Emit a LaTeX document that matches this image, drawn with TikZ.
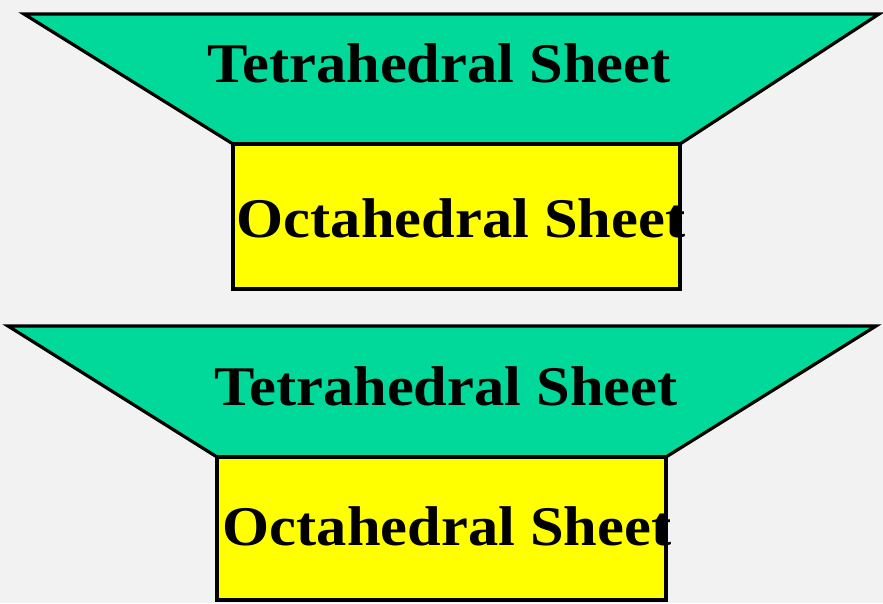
\documentclass[tikz,border=0pt]{standalone}
\usepackage{fontspec}
\setmainfont{Liberation Serif}
\definecolor{bgc}{HTML}{F2F2F2}
\definecolor{tetc}{HTML}{00D99A}
\definecolor{octc}{HTML}{FFFF00}
\begin{document}
\begin{tikzpicture}[x=1pt,y=-1pt,
  sheetshape/.style={draw=black,line width=3.2pt,line join=miter},
  lbl/.style={anchor=base,inner sep=0pt,font=\fontsize{56}{60}\selectfont\bfseries,xscale=1.08}]
\fill[bgc] (0,0) rectangle (883,603);
\useasboundingbox (0,0) rectangle (883,603);
% first pair
\draw[sheetshape,fill=tetc] (24,14) -- (879,14) -- (680,144) -- (233,144) -- cycle;
\draw[sheetshape,fill=octc] (233,144) rectangle (680,289);
% second pair
\draw[sheetshape,fill=tetc] (8,326) -- (876,326) -- (666,457) -- (217,457) -- cycle;
\draw[sheetshape,fill=octc] (217,457) rectangle (666,600);
\node[lbl] (t1) at (439,82) {Tetrahedral Sheet};
\node[lbl] (o1) at (461,237) {Octahedral Sheet};
\node[lbl] (t2) at (446,405) {Tetrahedral Sheet};
\node[lbl] (o2) at (447,545) {Octahedral Sheet};
\end{tikzpicture}
\end{document}
